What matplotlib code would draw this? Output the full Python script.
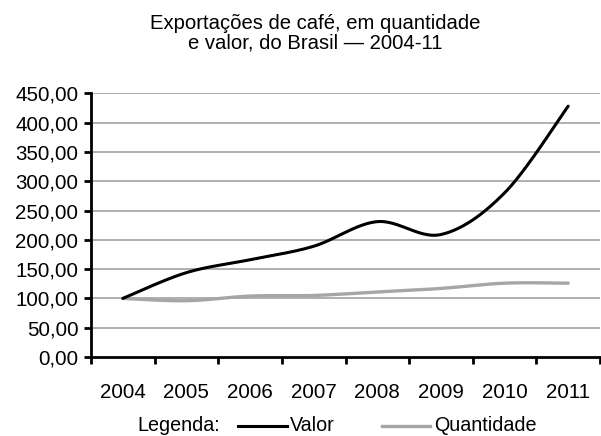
import matplotlib
matplotlib.use("Agg")
import matplotlib.pyplot as plt
from matplotlib.lines import Line2D
import numpy as np

plt.rcParams['font.family'] = ['Liberation Sans', 'DejaVu Sans']

# dados (índice, 2004 = 100)
anos = ['2004', '2005', '2006', '2007', '2008', '2009', '2010', '2011']
valor = [100, 144, 166, 189, 231, 209, 280, 428]
quantidade = [100, 96, 104, 105, 111, 117, 126, 126]

PRETO = '#000000'
CINZA = '#a6a6a6'
FS = 14.8


def suavizar(y, n=30):
    # curva suave tipo Excel (Catmull-Rom em forma de Bezier)
    y = np.asarray(y, dtype=float)
    x = np.arange(len(y), dtype=float)
    xs, ys = [], []
    for i in range(len(y) - 1):
        x0, y0 = x[max(i - 1, 0)], y[max(i - 1, 0)]
        x1, y1 = x[i], y[i]
        x2, y2 = x[i + 1], y[i + 1]
        x3, y3 = x[min(i + 2, len(y) - 1)], y[min(i + 2, len(y) - 1)]
        c1 = (x1 + (x2 - x0) / 6, y1 + (y2 - y0) / 6)
        c2 = (x2 - (x3 - x1) / 6, y2 - (y3 - y1) / 6)
        t = np.linspace(0, 1, n)
        bx = (1-t)**3*x1 + 3*(1-t)**2*t*c1[0] + 3*(1-t)*t**2*c2[0] + t**3*x2
        by = (1-t)**3*y1 + 3*(1-t)**2*t*c1[1] + 3*(1-t)*t**2*c2[1] + t**3*y2
        xs.extend(bx)
        ys.extend(by)
    return np.array(xs), np.array(ys)


fig = plt.figure(figsize=(6.01, 4.36), dpi=100)
ax = fig.add_axes([91/601, 1 - 357/436, 509/601, (357 - 93.3)/436])

for v in range(50, 451, 50):
    ax.axhline(v, color='#9a9a9a', lw=1.1, zorder=1)

xv, yv = suavizar(valor)
xq, yq = suavizar(quantidade)
ax.plot(xq, yq, color=CINZA, lw=2.4, solid_capstyle='round', zorder=3)
ax.plot(xv, yv, color=PRETO, lw=2.2, solid_capstyle='round', zorder=4)

ax.set_xlim(-0.5, len(anos) - 0.5)
ax.set_ylim(0, 450)
ax.set_yticks(range(0, 451, 50))
ax.set_yticklabels([f"{v:.2f}".replace('.', ',') for v in range(0, 451, 50)])
ax.set_xticks(range(len(anos)))
ax.set_xticklabels(anos)
ax.set_xticks(np.arange(-0.5, len(anos), 1.0), minor=True)
ax.tick_params(axis='x', which='major', length=0, pad=19, labelsize=FS)
ax.tick_params(axis='x', which='minor', length=5, width=2, direction='out')
ax.tick_params(axis='y', length=5, width=2, direction='out', pad=4, labelsize=FS)

for s in ['top', 'right']:
    ax.spines[s].set_visible(False)
for s in ['left', 'bottom']:
    ax.spines[s].set_linewidth(2)
    ax.spines[s].set_color(PRETO)

fig.text(0.525, 1 - 33/436, "Exportações de café, em quantidade\ne valor, do Brasil — 2004-11",
         ha='center', va='center', fontsize=14.6, linespacing=1.05)

# legenda
FL = 14.2
yb = 1 - 431/436
yl = 1 - 426/436
fig.text(137/601, yb, "Legenda:", ha='left', va='baseline', fontsize=FL)
fig.add_artist(Line2D([238/601, 287/601], [yl, yl], color=PRETO, lw=2.2,
                      transform=fig.transFigure))
fig.text(290/601, yb, "Valor", ha='left', va='baseline', fontsize=FL)
fig.add_artist(Line2D([382/601, 430/601], [yl, yl], color=CINZA, lw=2.4,
                      transform=fig.transFigure))
fig.text(434/601, yb, "Quantidade", ha='left', va='baseline', fontsize=FL)

fig.savefig("out.png", dpi=100)
